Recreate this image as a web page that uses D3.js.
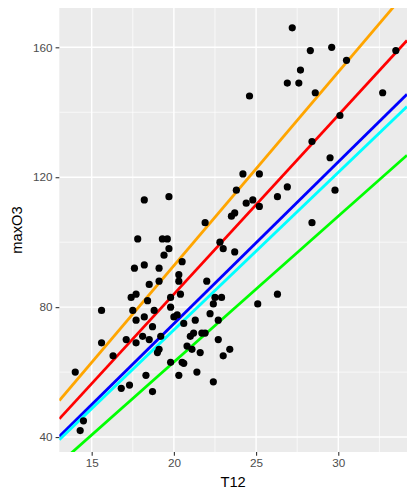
<!DOCTYPE html>
<html>
<head>
<meta charset="utf-8">
<script src="https://cdn.jsdelivr.net/npm/d3@7"></script>
<style>
  body { margin: 0; background: #fff; }
  text { font-family: "Liberation Sans", Arial, sans-serif; }
</style>
</head>
<body>
<div id="chart"></div>
<script>
// points (T12, maxO3)
const t12 = [27.2, 28.3, 29.6, 30.5, 27.7, 26.9, 27.6, 28.6, 24.6, 32.7,
  33.5, 30.1, 28.4, 29.5, 24.2, 25.2, 23.8, 24.4, 24.8, 25.2,
  26.3, 26.9, 29.8, 23.5, 23.7, 28.4, 22.8, 23.0, 23.7, 22.9,
  25.1, 26.3, 18.2, 19.7, 21.9, 17.8, 19.3, 19.6, 19.7, 19.4,
  17.6, 18.2, 19.1, 20.5, 18.5, 19.1, 20.3, 20.3, 22.0, 17.4,
  17.7, 18.4, 19.8, 20.4, 22.5, 22.4, 15.6, 17.5, 18.8, 19.8,
  18.2, 17.7, 18.7, 20.0, 20.2, 20.6, 21.3, 22.2, 22.7, 15.6,
  17.1, 17.7, 18.1, 18.5, 19.2, 21.0, 21.2, 21.7, 21.9, 22.7,
  16.3, 19.0, 19.1, 20.8, 21.1, 21.6, 23.0, 23.4, 19.8, 20.5,
  20.6, 21.4, 14.0, 18.3, 20.3, 22.4, 16.8, 17.3, 18.7, 14.5,
  14.3];
const maxO3 = [166, 159, 160, 156, 153, 149, 149, 146, 145, 146,
  159, 139, 131, 126, 121, 121, 116, 112, 113, 111,
  114, 117, 116, 108, 109, 106, 100, 98, 97, 83,
  81, 84, 113, 114, 106, 101, 101, 101, 98, 96,
  92, 93, 92, 94, 87, 88, 90, 88, 88, 83,
  84, 82, 83, 84, 83, 81, 79, 79, 79, 80,
  77, 76, 74, 77, 77.6, 75, 76, 78, 76, 69,
  70, 69, 71, 70, 71, 71, 72, 72, 72, 70,
  65, 66, 67, 68, 67, 66, 65, 67, 63, 63,
  62.7, 60, 60, 59, 59, 57, 55, 56, 54, 45,
  42];

// fitted lines
const lineColors = ['orange', 'red', 'blue', 'cyan', '#00FF00'];
const intercepts = [-26.4, -26.2, -24.7, -24.0, -26.7];
const slopes = [5.96, 5.51, 4.98, 4.85, 4.49];

const xTicks = [15, 20, 25, 30];
const xMinor = [12.5, 17.5, 22.5, 27.5, 32.5];
const yTicks = [40, 80, 120, 160];
const yMinor = [60, 100, 140];

const width = 407, height = 491;
const margin = { top: 8, right: 0, bottom: 39, left: 59.3 };

const svg = d3.select('#chart').append('svg')
  .attr('width', width)
  .attr('height', height);

const x = d3.scaleLinear().domain([13.03, 34.18]).range([margin.left, width - margin.right]);
const y = d3.scaleLinear().domain([35.4, 172.1]).range([height - margin.bottom, margin.top]);

// panel
svg.append('rect')
  .attr('x', margin.left)
  .attr('y', margin.top)
  .attr('width', width - margin.right - margin.left)
  .attr('height', height - margin.bottom - margin.top)
  .attr('fill', '#EBEBEB');

svg.append('clipPath').attr('id', 'panel')
  .append('rect')
  .attr('x', margin.left)
  .attr('y', margin.top)
  .attr('width', width - margin.right - margin.left)
  .attr('height', height - margin.bottom - margin.top);

const grid = svg.append('g').attr('clip-path', 'url(#panel)');

// minor grid
grid.selectAll('.xminor').data(xMinor).enter().append('line')
  .attr('x1', d => x(d)).attr('x2', d => x(d))
  .attr('y1', margin.top).attr('y2', height - margin.bottom)
  .attr('stroke', '#fff').attr('stroke-width', 0.7);
grid.selectAll('.yminor').data(yMinor).enter().append('line')
  .attr('y1', d => y(d)).attr('y2', d => y(d))
  .attr('x1', margin.left).attr('x2', width - margin.right)
  .attr('stroke', '#fff').attr('stroke-width', 0.7);

// major grid
grid.selectAll('.xmajor').data(xTicks).enter().append('line')
  .attr('x1', d => x(d)).attr('x2', d => x(d))
  .attr('y1', margin.top).attr('y2', height - margin.bottom)
  .attr('stroke', '#fff').attr('stroke-width', 1.4);
grid.selectAll('.ymajor').data(yTicks).enter().append('line')
  .attr('y1', d => y(d)).attr('y2', d => y(d))
  .attr('x1', margin.left).attr('x2', width - margin.right)
  .attr('stroke', '#fff').attr('stroke-width', 1.4);

// regression lines
const [x0, x1] = x.domain();
grid.selectAll('.fit').data(lineColors).enter().append('line')
  .attr('class', 'fit')
  .attr('x1', x(x0))
  .attr('y1', (d, i) => y(intercepts[i] + slopes[i] * x0))
  .attr('x2', x(x1))
  .attr('y2', (d, i) => y(intercepts[i] + slopes[i] * x1))
  .attr('stroke', d => d)
  .attr('stroke-width', 2.8);

// points
grid.selectAll('.pt').data(t12).enter().append('circle')
  .attr('cx', d => x(d))
  .attr('cy', (d, i) => y(maxO3[i]))
  .attr('r', 3.6)
  .attr('fill', '#000');

// axes
const xAxis = svg.append('g')
  .attr('transform', `translate(0, ${height - margin.bottom})`)
  .call(d3.axisBottom(x).tickValues(xTicks).tickSize(3.7).tickPadding(3));
const yAxis = svg.append('g')
  .attr('transform', `translate(${margin.left}, 0)`)
  .call(d3.axisLeft(y).tickValues(yTicks).tickSize(3.7).tickPadding(3));

[xAxis, yAxis].forEach(a => {
  a.select('.domain').remove();
  a.selectAll('line').attr('stroke', '#333').attr('stroke-width', 1.1);
  a.selectAll('text').attr('fill', '#4D4D4D').style('font-size', '11.7px')
    .style('font-family', '"Liberation Sans", Arial, sans-serif');
});

// axis titles
svg.append('text')
  .attr('x', (margin.left + width - margin.right) / 2)
  .attr('y', 487)
  .attr('text-anchor', 'middle')
  .style('font-size', '14.7px')
  .text('T12');
svg.append('text')
  .attr('transform', `translate(22, ${(margin.top + height - margin.bottom) / 2}) rotate(-90)`)
  .attr('text-anchor', 'middle')
  .style('font-size', '14.7px')
  .text('maxO3');
</script>
</body>
</html>
